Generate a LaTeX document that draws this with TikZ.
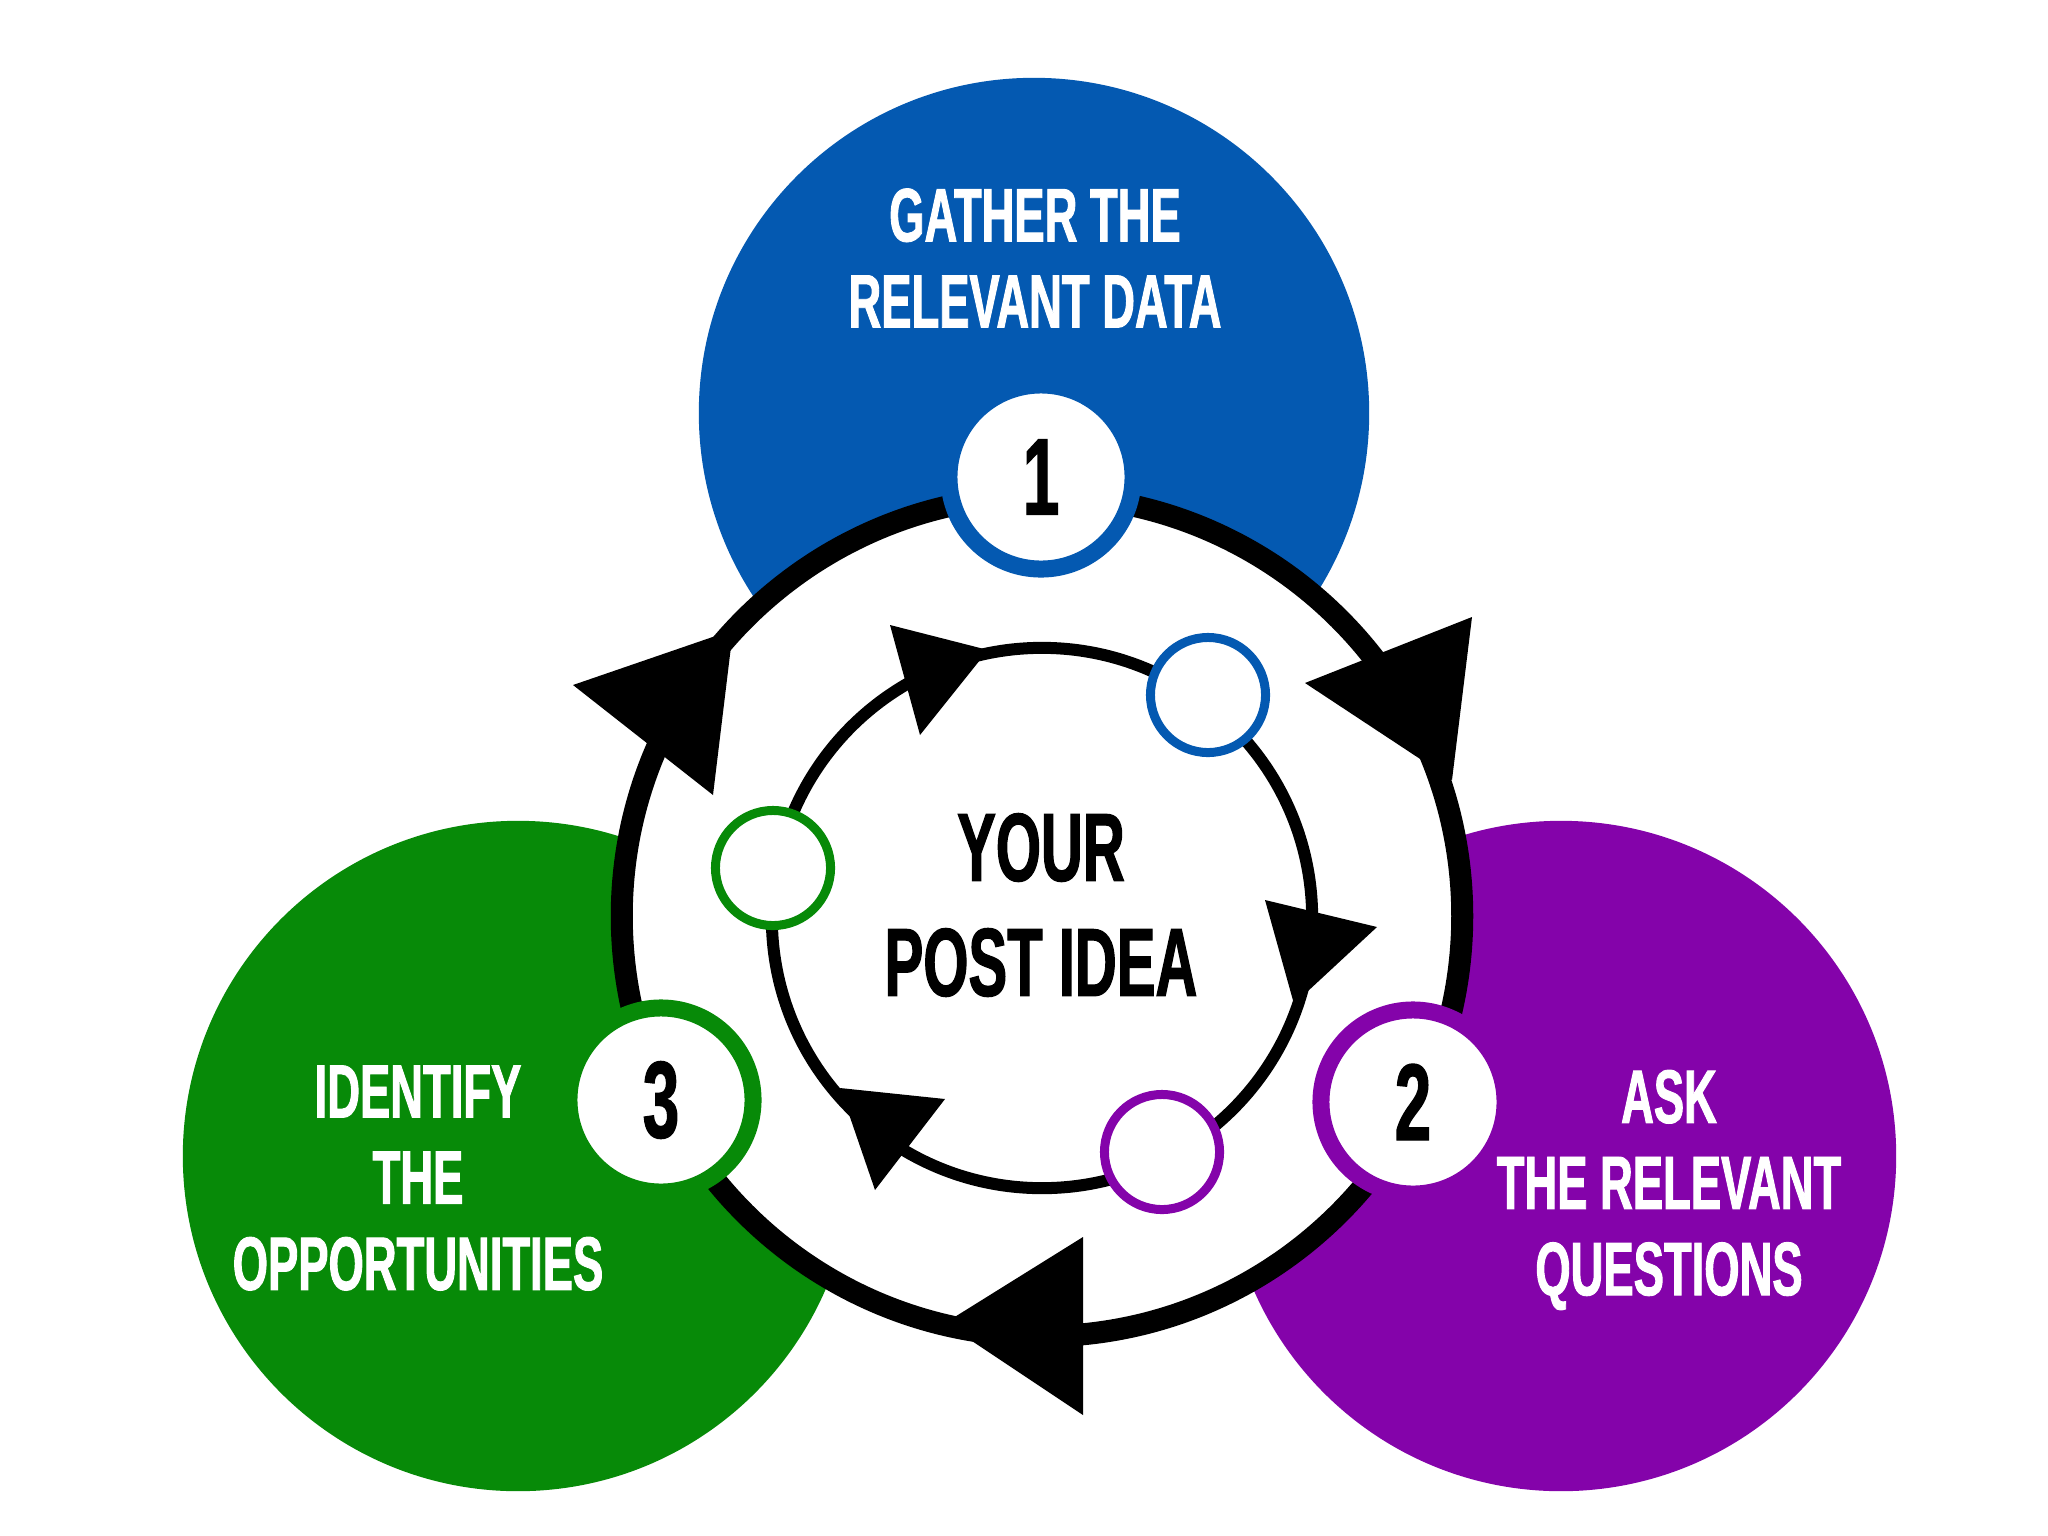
\documentclass[tikz,border=0pt]{standalone}
\usepackage{fontspec}
\newfontfamily\condfont{Liberation Sans}[FakeStretch=0.6,FakeBold=1.2]
\definecolor{cblue}{HTML}{0459B1}
\definecolor{cgreen}{HTML}{078A08}
\definecolor{cpurple}{HTML}{8403AA}
\tikzset{
  bigdisc/.style={circle, minimum size=6.70cm, inner sep=0pt, draw=none},
  numc/.style={circle, draw=#1, fill=white, line width=0.17cm, minimum size=1.84cm, inner sep=0pt,
    font=\condfont\bfseries\fontsize{31}{33}\selectfont},
  dotc/.style={circle, draw=#1, fill=white, line width=0.09cm, minimum size=1.15cm, inner sep=0pt},
  ringo/.style={circle, draw=black, fill=white, line width=0.22cm, minimum size=8.40cm, inner sep=0pt},
  ringi/.style={circle, draw=black, line width=0.12cm, minimum size=5.40cm, inner sep=0pt},
  arrowhd/.style={fill=black},
  lbl/.style={text=white, align=center, inner sep=0pt,
    font=\condfont\bfseries\fontsize{21.5}{24.5}\selectfont},
  ctrlbl/.style={text=black, align=center, inner sep=0pt,
    font=\condfont\bfseries\fontsize{27.5}{32.7}\selectfont},
}
\begin{document}
\begin{tikzpicture}[x=0.01cm,y=-0.01cm]
\useasboundingbox (0,0) rectangle (2048,1536);
\fill[white] (0,0) rectangle (2048,1536);
% coloured discs
\node[bigdisc, fill=cblue] (blue) at (1034,413) {};
\node[bigdisc, fill=cgreen] (green) at (518,1156) {};
\node[bigdisc, fill=cpurple] (purple) at (1561,1156) {};
% rings
\node[ringo] (outer) at (1042,916) {};
\node[ringi] (inner) at (1042,918) {};
% outer arrowheads
\fill[arrowhd] (573,685) -- (733,630) -- (713,795) -- cycle;
\fill[arrowhd] (1305,683) -- (1472,617) -- (1452,780) -- cycle;
\fill[arrowhd] (945,1323) -- (1083,1237) -- (1083,1415) -- cycle;
% inner arrowheads
\fill[arrowhd] (890,625) -- (988,650) -- (920,735) -- cycle;
\fill[arrowhd] (1265,900) -- (1377,927) -- (1294,1004) -- cycle;
\fill[arrowhd] (840,1088) -- (945,1099) -- (875,1190) -- cycle;
% small circles on inner ring
\node[dotc=cblue] (dblue) at (1208,695) {};
\node[dotc=cgreen] (dgreen) at (773,868) {};
\node[dotc=cpurple] (dpurple) at (1162,1152) {};
% numbered circles
\node[numc=cblue] (n1) at (1041,477) {1};
\node[numc=cpurple] (n2) at (1413,1102) {2};
\node[numc=cgreen] (n3) at (661,1100) {3};
% labels
\node[lbl] (t1) at (1035,258) {GATHER THE\\RELEVANT DATA};
\node[lbl] (t3) at (418,1178) {IDENTIFY\\THE\\OPPORTUNITIES};
\node[lbl] (t2) at (1669,1190) {ASK\\THE RELEVANT\\QUESTIONS};
\node[ctrlbl] (ctr) at (1041,905) {YOUR\\POST IDEA};
\end{tikzpicture}
\end{document}
